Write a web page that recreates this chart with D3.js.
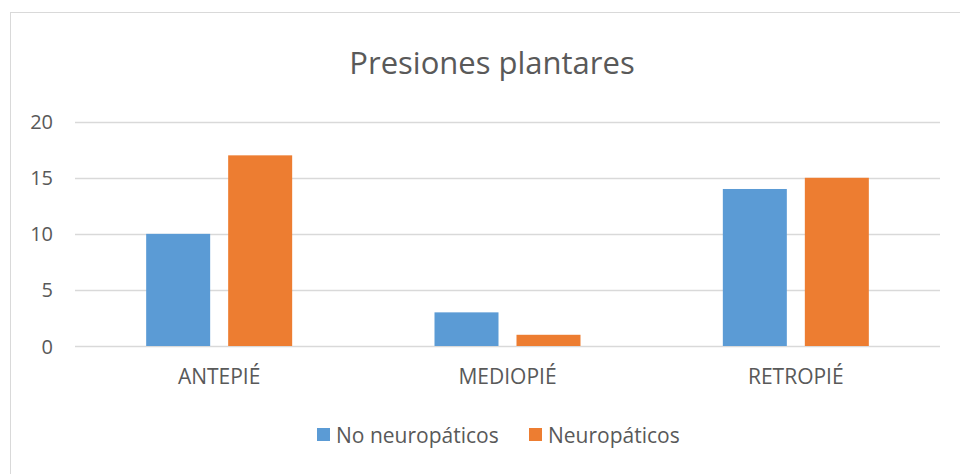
<!DOCTYPE html>
<html>
<head>
<meta charset="utf-8">
<script src="https://cdn.jsdelivr.net/npm/d3@7"></script>
<style>
  body { margin: 0; background: #fff; }
  text { font-family: "Open Sans", "Noto Sans", sans-serif; fill: #595959; }
</style>
</head>
<body>
<script>
var categories = ["ANTEPIÉ", "MEDIOPIÉ", "RETROPIÉ"];
var seriesNames = ["No neuropáticos", "Neuropáticos"];
var noNeuro = [10, 3, 14];
var neuro = [17, 1, 15];
var yTicks = [0, 5, 10, 15, 20];
var colors = ["#5B9BD5", "#ED7D31"];

var width = 960, height = 474;
var svg = d3.select("body").append("svg")
    .attr("width", width)
    .attr("height", height);

// chart frame
svg.append("rect")
    .attr("x", 10.5).attr("y", 12.5)
    .attr("width", 960).attr("height", 480)
    .attr("fill", "none")
    .attr("stroke", "#d9d9d9");

var plotLeft = 75, plotRight = 940, plotTop = 121.7, plotBottom = 346;

var x = d3.scaleBand().domain(categories).range([plotLeft, plotRight]);
var y = d3.scaleLinear().domain([0, 20]).range([plotBottom, plotTop]);

// gridlines
svg.selectAll("line.grid")
    .data(yTicks)
    .enter().append("line")
    .attr("class", "grid")
    .attr("x1", plotLeft).attr("x2", plotRight)
    .attr("y1", d => Math.round(y(d)) + 0.5)
    .attr("y2", d => Math.round(y(d)) + 0.5)
    .attr("stroke", "#d9d9d9")
    .attr("stroke-width", 1.3);

// y labels
svg.selectAll("text.ytick")
    .data(yTicks)
    .enter().append("text")
    .attr("class", "ytick")
    .attr("x", 53)
    .attr("y", d => y(d) + 7.5)
    .attr("text-anchor", "end")
    .style("font-size", "20px")
    .text(d => d);

// bars
var barW = 64, gap = 18;
var data = categories.map((c, i) => [noNeuro[i], neuro[i]]);
var group = svg.selectAll("g.cat")
    .data(data)
    .enter().append("g")
    .attr("class", "cat")
    .attr("transform", (d, i) => "translate(" + (x(categories[i]) + x.bandwidth() / 2) + ",0)");

group.selectAll("rect")
    .data(d => d)
    .enter().append("rect")
    .attr("x", (d, j) => j == 0 ? -gap / 2 - barW : gap / 2)
    .attr("y", d => y(d))
    .attr("width", barW)
    .attr("height", d => plotBottom - y(d))
    .attr("fill", (d, j) => colors[j]);

// category labels
svg.selectAll("text.xtick")
    .data(categories)
    .enter().append("text")
    .attr("class", "xtick")
    .attr("x", d => x(d) + x.bandwidth() / 2)
    .attr("y", 384)
    .attr("text-anchor", "middle")
    .style("font-size", "21px")
    .text(d => d);

// title
svg.append("text")
    .attr("x", 492)
    .attr("y", 74)
    .attr("text-anchor", "middle")
    .style("font-size", "31px")
    .text("Presiones plantares");

// legend
var legendX = [317, 529];
var legend = svg.selectAll("g.legend")
    .data(seriesNames)
    .enter().append("g")
    .attr("class", "legend")
    .attr("transform", (d, i) => "translate(" + legendX[i] + ",428)");
legend.append("rect")
    .attr("width", 13).attr("height", 13)
    .attr("fill", (d, i) => colors[i]);
legend.append("text")
    .attr("x", 19)
    .attr("y", 15)
    .style("font-size", "21px")
    .text(d => d);
</script>
</body>
</html>
